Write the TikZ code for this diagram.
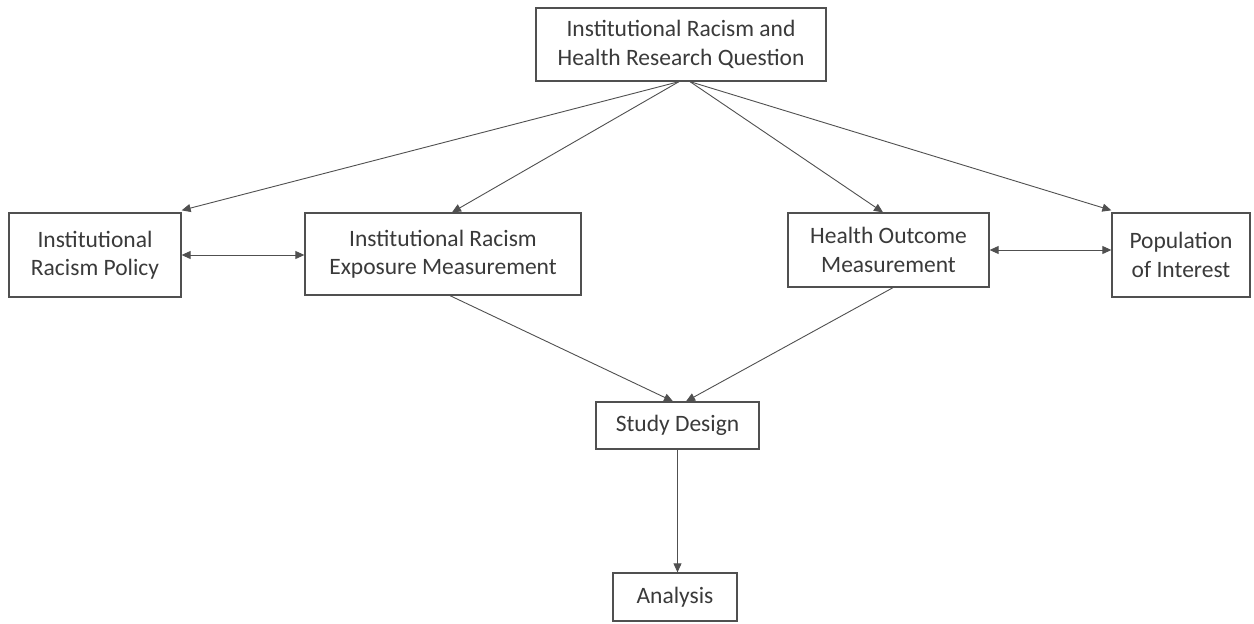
\documentclass[tikz,border=0pt]{standalone}
\usepackage{fontspec}
\setmainfont{Carlito}
\usetikzlibrary{arrows.meta}
\definecolor{txt}{HTML}{3A3A3A}
\definecolor{ln}{HTML}{505050}
\begin{document}
\begin{tikzpicture}[x=1pt,y=-1pt,
  box/.style={draw=ln,line width=1.3pt,inner sep=0pt,align=center,text=txt,
    font=\fontsize{23.5}{28.5}\selectfont},
  arr/.style={draw=ln,line width=0.9pt,-{Triangle[length=9pt,width=8pt]}},
  darr/.style={draw=ln,line width=0.9pt,{Triangle[length=9pt,width=8pt]}-{Triangle[length=9pt,width=8pt]}}]
\useasboundingbox[fill=white] (0,0) rectangle (1254,624);
\node[box,minimum width=290pt,minimum height=73pt] (top) at (681,44.5) {Institutional Racism and\\Health Research Question};
\node[box,minimum width=172pt,minimum height=84pt] (pol) at (95,255) {Institutional\\Racism Policy};
\node[box,minimum width=276pt,minimum height=82pt] (exp) at (443,254) {Institutional Racism\\Exposure Measurement};
\node[box,minimum width=201pt,minimum height=74pt] (hom) at (888.5,250) {Health Outcome\\Measurement};
\node[box,minimum width=138pt,minimum height=84pt] (pop) at (1181,255) {Population\\of Interest};
\node[box,minimum width=163pt,minimum height=47pt] (sd) at (677.5,425.5) {Study Design};
\node[box,minimum width=124pt,minimum height=48pt] (an) at (675,597) {Analysis};
\draw[arr] ([xshift=-2pt]top.south) -- ([yshift=2pt]pol.north east);
\draw[arr] ([xshift=-2pt]top.south) -- ([xshift=9pt]exp.north);
\draw[arr] ([xshift=9pt]top.south) -- ([xshift=-5.5pt]hom.north);
\draw[arr] ([xshift=9pt]top.south) -- ([yshift=2pt]pop.north west);
\draw[darr] (pol.east) -- (exp.west|-pol.east);
\draw[darr] (hom.east) -- (pop.west|-hom.east);
\draw[arr] ([xshift=7pt]exp.south) -- ([xshift=-4.5pt]sd.north);
\draw[arr] ([xshift=4.5pt]hom.south) -- ([xshift=8.5pt]sd.north);
\draw[arr] (sd.south) -- (sd.south|-an.north);
\end{tikzpicture}
\end{document}
